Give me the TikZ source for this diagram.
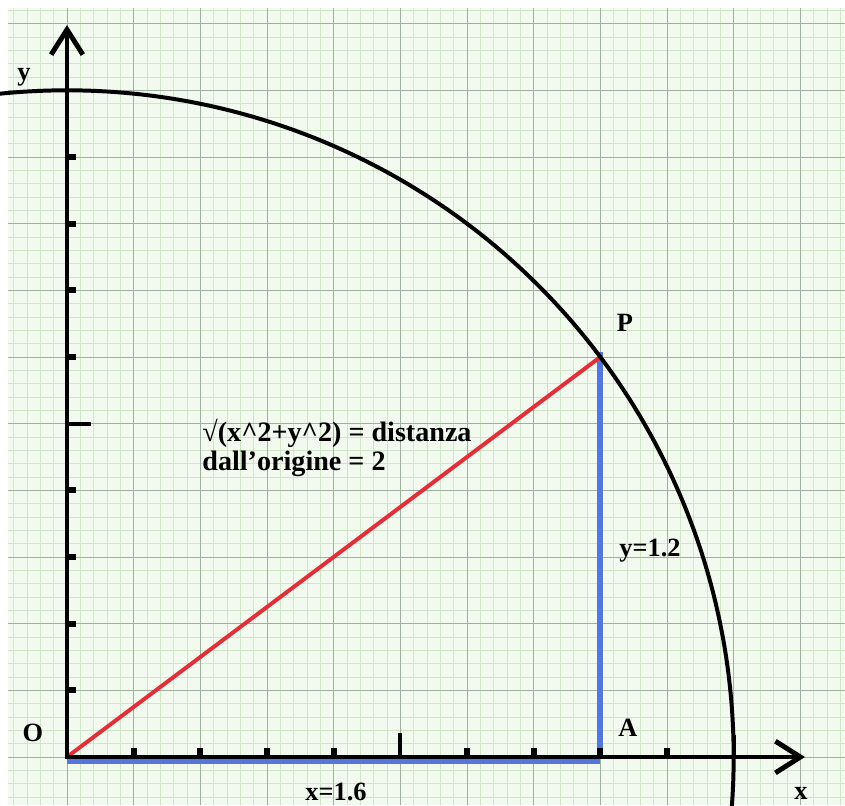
\documentclass[tikz,border=0pt]{standalone}
\usepackage{fontspec}
\setmainfont{Liberation Serif}
\usetikzlibrary{arrows.meta}
\definecolor{paper}{HTML}{F2F9EE}
\definecolor{gridMinor}{HTML}{D0E5C7}
\definecolor{gridMajor}{HTML}{A0B09E}
\definecolor{segRed}{HTML}{E0303A}
\definecolor{segBlue}{HTML}{5577DD}

\begin{document}
\begin{tikzpicture}[
  x=10cm, y=10cm,
  font=\bfseries\fontsize{22.5}{25.5}\selectfont,
  >={Straight Barb[length=7.5mm, width=9.5mm]},
  axis/.style={line width=4.2pt, <->, line join=miter},
  smalltick/.style={line width=5pt},
  bigtick/.style={line width=3.5pt},
  curve/.style={line width=3.4pt},
  radius line/.style={segRed, line width=3.4pt},
  legline/.style={segBlue, line width=5pt},
  lbl/.style={inner sep=1pt},
]

\useasboundingbox (-0.201,-0.144) rectangle (2.334,2.271);
\clip (-0.201,-0.144) rectangle (2.334,2.271);

% graph paper
\fill[white] (-0.201,-0.144) rectangle (2.334,2.271);
\fill[paper] (-0.177,-0.144) rectangle (2.334,2.247);
\draw[gridMinor, line width=0.6pt, step=0.04] (-0.177,-0.144) grid (2.334,2.247);
\draw[gridMajor, line width=0.8pt, step=0.2] (-0.177,-0.144) grid (2.334,2.247);

\coordinate (O) at (0,0);
\coordinate (A) at (1.6,0);
\coordinate (P) at (1.6,1.2);
\coordinate (Ytip) at (0,2.196);
\coordinate (Xtip) at (2.214,0);

% legs and radius
\draw[legline] ([yshift=-1.35mm]O) -- ([yshift=-1.35mm]A);
\draw[legline] (A) -- ([yshift=1.5mm]P);
\draw[radius line] (O) -- (P);

% circle of radius 2
\draw[curve] (97:2) arc[start angle=97, end angle=-6, radius=2];

% axes
\draw[axis] (Ytip) -- (O) -- (Xtip);

\foreach \k in {1,2,3,4,6,7,8,9}{
  \draw[smalltick] (0,\k*0.2) -- ++(0.027,0);
  \draw[smalltick] (\k*0.2,0) -- ++(0,0.027);
}
\draw[bigtick] (0,1) -- ++(0.072,0);
\draw[bigtick] (1,0) -- ++(0,0.072);
\draw[bigtick] (2,0) -- ++(0,0.066);

% labels
\node[lbl] (labO) at (-0.102,0.072) {O};
\node[lbl] (labA) at (1.683,0.087) {A};
\node[lbl] (labP) at (1.674,1.302) {P};
\node[lbl] (labY) at (-0.129,2.040) {y};
\node[lbl] (labX) at (2.202,-0.108) {x};
\node[lbl] (legY) at (1.749,0.618) {y=1.2};
\node[lbl] (legX) at (0.807,-0.105) {x=1.6};
\node[lbl, anchor=west, align=left, font=\bfseries\fontsize{24}{25.5}\selectfont]
  (dist) at (0.402,0.927)
  {√(x\textasciicircum 2+y\textasciicircum 2) = distanza\\dall’origine = 2};

\end{tikzpicture}
\end{document}
